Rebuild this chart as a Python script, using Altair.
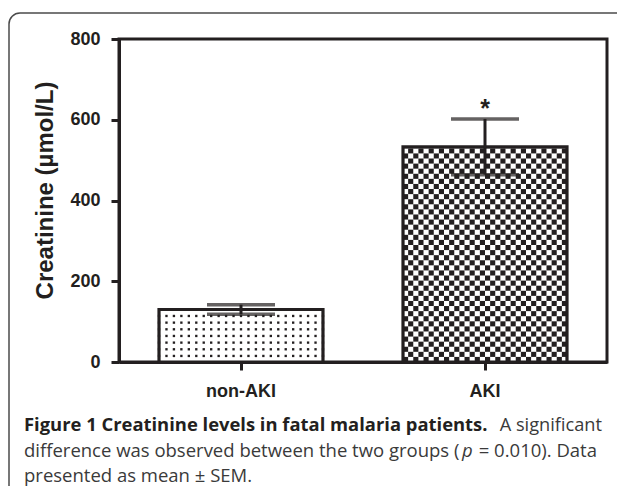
import altair as alt
import pandas as pd

# ---- data ----
groups = ["non-AKI", "AKI"]
means = [130, 533]
sems = [12, 69]
sig = ["", "*"]
y_ticks = [0, 200, 400, 600, 800]

INK = "#231f20"
TXT = "#3a3a3a"
EDGE = "#4a4a4a"

bars = pd.DataFrame({"group": groups, "mean": means, "sem": sems, "sig": sig})
bars["lo"] = bars["mean"] - bars["sem"]
bars["hi"] = bars["mean"] + bars["sem"]

# ---- fill patterns (decoration derived from the bar heights) ----
aki_mean = means[1]
check_cols, check_step = 32, 12.6
check = []
n_check_rows = int(-(-aki_mean // check_step))
for i in range(n_check_rows):
    for j in range(check_cols):
        if (i + j) % 2 == 0:
            check.append({"group": "AKI", "col": j,
                          "y0": i * check_step,
                          "y1": min((i + 1) * check_step, aki_mean)})
check = pd.DataFrame(check)

non_mean = means[0]
dot_cols, dot_step, dot_start = 23, 16.5, 15
dots = []
k = 0
while dot_start + k * dot_step < non_mean - 5:
    for j in range(dot_cols):
        dots.append({"group": "non-AKI", "dcol": j, "yy": dot_start + k * dot_step})
    k += 1
dots = pd.DataFrame(dots)

one = pd.DataFrame({"k": [0]})

xscale = alt.Scale(domain=groups, paddingInner=0.328, paddingOuter=0.164)
X = alt.X("group:N", sort=groups, scale=xscale,
          axis=alt.Axis(title=None, labelAngle=0, labelFont="Liberation Sans",
                        labelFontWeight="bold", labelFontSize=18, labelColor=INK,
                        labelPadding=12, tickSize=8, tickWidth=3, tickColor=INK,
                        domainColor=INK, domainWidth=3))
yscale = alt.Scale(domain=[0, 800], nice=False)
Y = alt.Y("mean:Q", scale=yscale,
          axis=alt.Axis(values=y_ticks, title="Creatinine (µmol/L)", grid=False,
                        labelFont="Liberation Sans", labelFontWeight="bold",
                        labelFontSize=18, labelColor=INK, labelPadding=11,
                        tickSize=8, tickWidth=3, tickColor=INK,
                        domainColor=INK, domainWidth=3,
                        titleFont="Liberation Sans", titleFontWeight="bold",
                        titleFontSize=24, titleColor=INK, titlePadding=12,
                        titleY=151))

base = alt.Chart(bars)

bar_fill = base.mark_bar(fill="white").encode(x=X, y=Y)

checker = alt.Chart(check).mark_bar(color=INK).encode(
    x=alt.X("group:N", sort=groups, scale=xscale),
    xOffset=alt.XOffset("col:O", scale=alt.Scale(paddingInner=0, paddingOuter=0)),
    y=alt.Y("y0:Q", scale=yscale), y2="y1:Q")

dotted = alt.Chart(dots).mark_square(color=INK, size=5.5, opacity=1).encode(
    x=alt.X("group:N", sort=groups, scale=xscale),
    xOffset=alt.XOffset("dcol:O", scale=alt.Scale(paddingInner=0, paddingOuter=0)),
    y=alt.Y("yy:Q", scale=yscale))

bar_edge = base.mark_bar(fill="white", fillOpacity=0, stroke=INK, strokeWidth=3.2).encode(x=X, y=Y)

err = base.mark_rule(color=INK, strokeWidth=3).encode(
    x=X, y=alt.Y("lo:Q", scale=yscale), y2="hi:Q")
cap_hi = base.mark_tick(color=INK, size=68, thickness=3.5).encode(x=X, y=alt.Y("hi:Q", scale=yscale))
cap_lo = base.mark_tick(color=INK, size=68, thickness=3.5).encode(x=X, y=alt.Y("lo:Q", scale=yscale))

star = base.mark_text(font="Liberation Sans", fontWeight="bold", fontSize=25,
                      color=INK, baseline="alphabetic", dy=-2).encode(
    x=X, y=alt.Y("hi:Q", scale=yscale), text="sig:N")

# outer rounded panel border (top and left edges visible)
border_top = alt.Chart(one).mark_rule(color=EDGE, strokeWidth=1.5).encode(
    x=alt.value(-99), x2=alt.value(520), y=alt.value(-26))
border_left = alt.Chart(one).mark_rule(color=EDGE, strokeWidth=1.5).encode(
    x=alt.value(-110), y=alt.value(-15), y2=alt.value(460))
border_corner = alt.Chart(one).mark_arc(color=EDGE, theta=4.7124, theta2=6.2832,
                                        radius=11.75, radius2=10.25).encode(
    x=alt.value(-99), y=alt.value(-15))

cap_font = "Open Sans"
def cap_text(txt, x, y, align="left", weight="normal", style="normal",
             color=TXT, size=18.5):
    return alt.Chart(one).mark_text(text=txt, font=cap_font, fontSize=size,
                                    fontWeight=weight, fontStyle=style, color=color,
                                    align=align, baseline="alphabetic").encode(
        x=alt.value(x), y=alt.value(y))

caption = [
    cap_text("Figure 1 Creatinine levels in fatal malaria patients.", -95, 392,
             weight="bold", color=INK, size=18.4),
    cap_text("A significant", 483, 392, align="right", size=18.2),
    cap_text("difference was observed between the two groups (", -95, 418),
    cap_text("p", 343, 418, style="italic"),
    cap_text("= 0.010). Data", 478, 418, align="right"),
    cap_text("presented as mean ± SEM.", -95, 443),
]

chart = alt.layer(border_top, border_left, border_corner, *caption, bar_fill,
                  checker, dotted, bar_edge, err, cap_hi, cap_lo, star).resolve_scale(
    xOffset="independent"
).properties(
    width=488, height=323,
    padding={"left": 111, "top": 31, "right": 10, "bottom": 124},
    autosize=alt.AutoSizeParams(type="none"),
    background="white",
).configure_view(stroke=INK, strokeWidth=3)

chart.save("out.html", embed_options={"renderer": "svg", "actions": False})
